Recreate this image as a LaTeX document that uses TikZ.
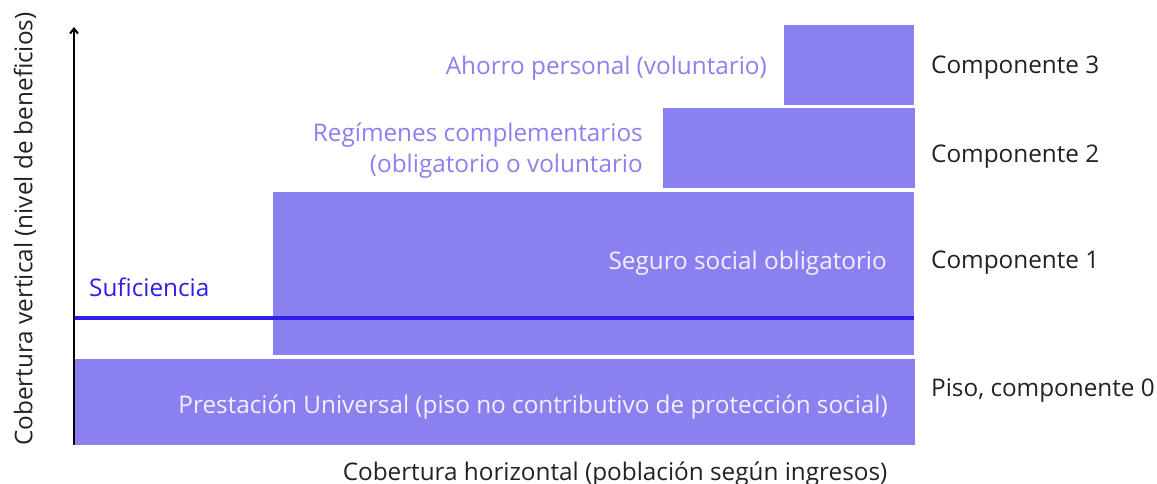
\documentclass[tikz,border=0pt]{standalone}
\usepackage{fontspec}
\setmainfont{Open Sans}
\usetikzlibrary{arrows.meta}
\definecolor{boxfill}{HTML}{8A80F0}
\definecolor{linecol}{HTML}{2E1EE8}
\definecolor{intext}{HTML}{F2F2FF}
\definecolor{darktext}{HTML}{222222}
\tikzset{
  box/.style={fill=boxfill, draw=none, anchor=north west, inner sep=0pt},
  lbl/.style={font=\fontsize{24.3}{30}\selectfont, inner sep=0pt},
  intxt/.style={lbl, text=intext, anchor=east},
  sidetxt/.style={lbl, text=boxfill, anchor=east, align=right},
  comp/.style={lbl, text=darktext, anchor=west},
}
\begin{document}
\begin{tikzpicture}[x=1pt,y=-1pt]
\useasboundingbox (0,0) rectangle (1157,484);
% boxes
\node[box, minimum width=841pt, minimum height=86pt] (b0) at (74,359) {};
\node[box, minimum width=641pt, minimum height=163pt] (b1) at (273,192) {};
\node[box, minimum width=252pt, minimum height=80pt] (b2) at (663,108) {};
\node[box, minimum width=130pt, minimum height=80pt] (b3) at (784,25) {};
% axis
\coordinate (ax0) at (74,445);
\coordinate (ax1) at (74,27);
\draw[line width=2pt, -{Straight Barb[length=5pt,width=8pt]}] (ax0) -- (ax1);
% sufficiency line
\coordinate (s0) at (75,318);
\coordinate (s1) at (914,318);
\draw[linecol, line width=4pt] (s0) -- (s1);
\node[lbl, text=linecol, anchor=west] (suf) at (89,287) {Suficiencia};
% texts inside boxes
\node[intxt] (t0) at (888,407) {Prestación Universal (piso no contributivo de protección social)};
\node[intxt] (t1) at (887,263) {Seguro social obligatorio};
% side texts
\node[sidetxt] (t3) at (767,68) {Ahorro personal (voluntario)};
\node[sidetxt] (t2a) at (643,135) {Regímenes complementarios};
\node[sidetxt] (t2b) at (643,166) {(obligatorio o voluntario};
% component labels
\node[comp] (c3) at (931,68) {Componente 3};
\node[comp] (c2) at (931,157) {Componente 2};
\node[comp] (c1) at (931,263) {Componente 1};
\node[comp] (c0) at (931,390) {Piso, componente 0};
% axis labels
\node[lbl, text=darktext] (xl) at (615,474) {Cobertura horizontal (población según ingresos)};
\node[lbl, text=darktext, rotate=90] (yl) at (25,229) {Cobertura vertical (nivel de beneficios)};
\end{tikzpicture}
\end{document}
